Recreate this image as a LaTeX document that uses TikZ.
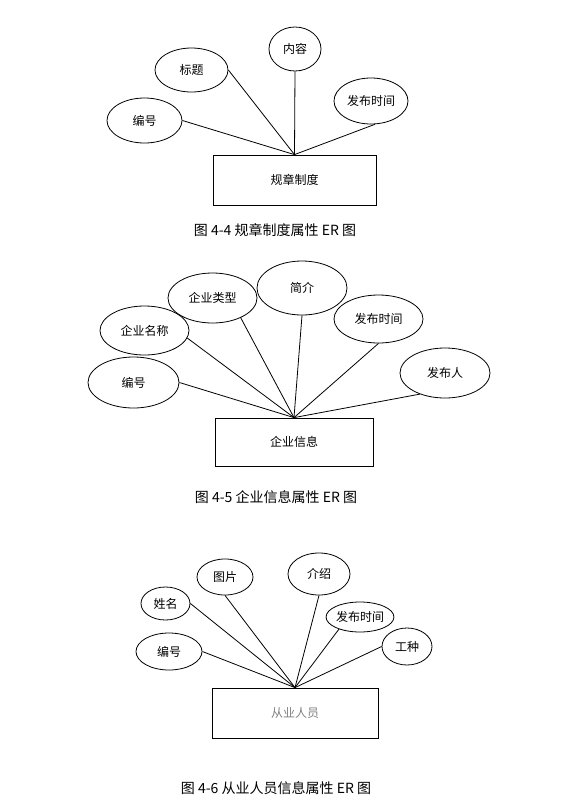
\documentclass[tikz,border=0pt]{standalone}
\usepackage{fontspec}
\setmainfont{Noto Sans CJK SC}
\usetikzlibrary{shapes.geometric}
\tikzset{
    attr/.style={
        draw,
        ellipse,
        inner sep=0pt,
        font=\fontsize{12}{14}\selectfont
    },
    entity/.style={
        draw,
        rectangle,
        inner sep=0pt,
        font=\fontsize{12}{14}\selectfont
    },
    caption/.style={
        font=\fontsize{14}{16}\selectfont
    },
    link/.style={
        line width=0.8pt
    }
}

\begin{document}
\begin{tikzpicture}[x=1pt,y=-1pt,line width=0.8pt]
    \useasboundingbox (0,0) rectangle (585,812);
    % figure 4-4
    \node [entity, minimum width=163pt, minimum height=50pt] (rule) at (294.5,180) {规章制度};
    \node [attr, minimum width=75pt, minimum height=45pt] (ruleNum) at (144.5,120.5) {编号};
    \node [attr, minimum width=73pt, minimum height=44pt] (ruleTitle) at (191.5,70) {标题};
    \node [attr, minimum width=52pt, minimum height=44pt] (ruleText) at (295,49) {内容};
    \node [attr, minimum width=74pt, minimum height=46pt] (rulePub) at (371,101) {发布时间};
    \draw [link] (ruleNum.east) -- (rule.north);
    \draw [link] (ruleTitle.east) -- (rule.north);
    \draw [link] (ruleText.south) -- (rule.north);
    \draw [link] (rulePub.-80) -- (rule.north);
    \node [caption] (cap44) at (275,230) {图 4-4 规章制度属性 ER 图};
    % figure 4-5
    \node [entity, minimum width=158pt, minimum height=48pt] (firm) at (294,442) {企业信息};
    \node [attr, minimum width=91pt, minimum height=51pt] (firmNum) at (133.5,382.5) {编号};
    \node [attr, minimum width=89pt, minimum height=49pt] (firmName) at (144.5,330.5) {企业名称};
    \node [attr, minimum width=89pt, minimum height=50pt] (firmType) at (212.5,298) {企业类型};
    \node [attr, minimum width=90pt, minimum height=54pt] (firmIntro) at (302,288) {简介};
    \node [attr, minimum width=89pt, minimum height=48pt] (firmPub) at (378.5,319) {发布时间};
    \node [attr, minimum width=90pt, minimum height=50pt] (firmBy) at (445,373) {发布人};
    \draw [link] (firmNum.east) -- (firm.north);
    \draw [link] (firmName.-10) -- (firm.north);
    \draw [link] (firmType.-35) -- (firm.north);
    \draw [link] (firmIntro.south) -- (firm.north);
    \draw [link] (firmPub.south) -- (firm.north);
    \draw [link] (firmBy.-140) -- (firm.north);
    \node [caption] (cap45) at (276,497) {图 4-5 企业信息属性 ER 图};
    % figure 4-6
    \node [entity, text=gray, minimum width=166pt, minimum height=50pt] (staff) at (295,713) {从业人员};
    \node [attr, minimum width=66pt, minimum height=37pt] (staffNum) at (169,651.5) {编号};
    \node [attr, minimum width=49pt, minimum height=33pt] (staffName) at (165.5,603.5) {姓名};
    \node [attr, minimum width=56pt, minimum height=36pt] (staffPic) at (225,577) {图片};
    \node [attr, minimum width=62pt, minimum height=42pt] (staffIntro) at (319,574) {介绍};
    \node [attr, minimum width=56pt, minimum height=30pt] (staffPub) at (360,617) {发布时间};
    \node [attr, minimum width=50pt, minimum height=37pt] (staffJob) at (407,646.5) {工种};
    \draw [link] (staffNum.east) -- (staff.north);
    \draw [link] (staffName.east) -- (staff.north);
    \draw [link] (staffPic.south) -- (staff.north);
    \draw [link] (staffIntro.south) -- (staff.north);
    \draw [link] (staffPub.-150) -- (staff.north);
    \draw [link] (staffJob.west) -- (staff.north);
    \node [caption] (cap46) at (276,788) {图 4-6 从业人员信息属性 ER 图};
\end{tikzpicture}
\end{document}
